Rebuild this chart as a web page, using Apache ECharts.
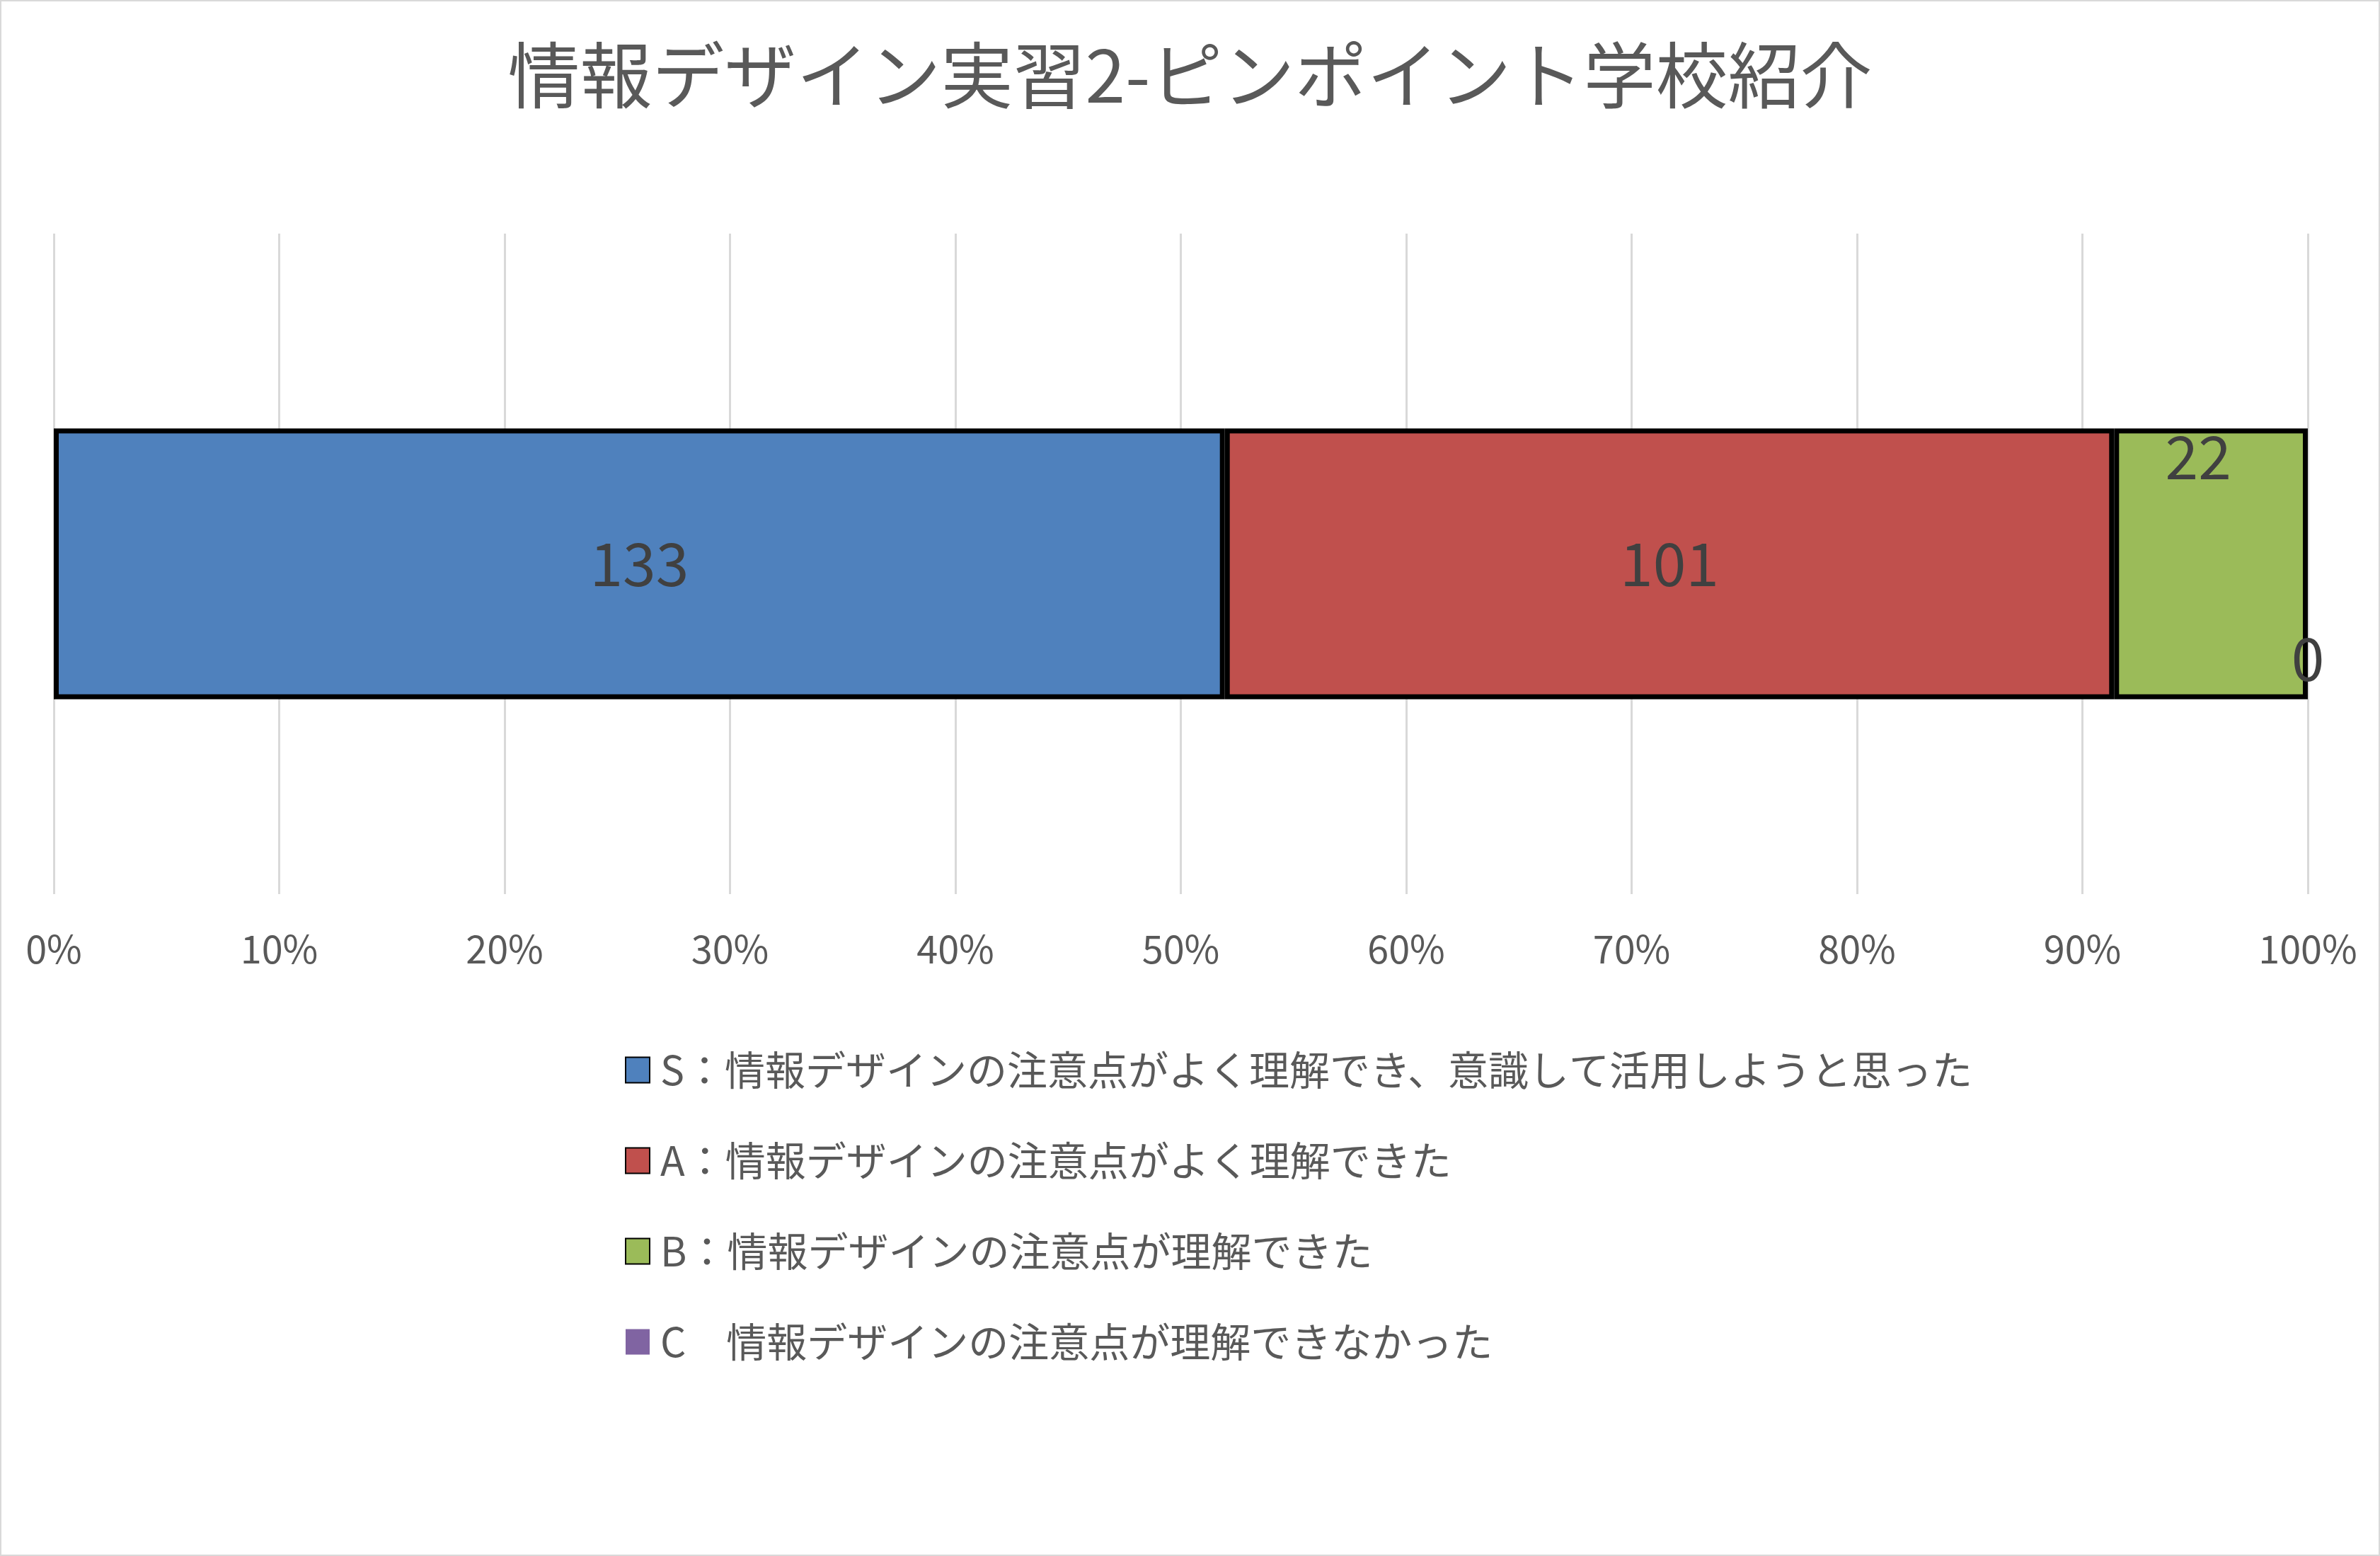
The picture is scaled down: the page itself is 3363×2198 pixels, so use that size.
<!DOCTYPE html>
<html>
<head>
<meta charset="utf-8">
<script src="https://cdn.jsdelivr.net/npm/echarts@6/dist/echarts.min.js"></script>
<style>
  html, body { margin: 0; padding: 0; background: #fff; }
  #chart { width: 3363px; height: 2198px; box-sizing: border-box; border: 2px solid #d9d9d9; }
</style>
</head>
<body>
<div id="chart"></div>
<script>
const titleText = '情報デザイン実習2-ピンポイント学校紹介'
const categories = ['']
const seriesNames = [
  'S：情報デザインの注意点がよく理解でき、意識して活用しようと思った',
  'A：情報デザインの注意点がよく理解できた',
  'B：情報デザインの注意点が理解できた',
  'C　情報デザインの注意点が理解できなかった'
]
const seriesCounts = [133, 101, 22, 0]
const seriesColors = ['#4f81bd', '#c0504d', '#9bbb59', '#8064a2']
const tickLabels = ['0%', '10%', '20%', '30%', '40%', '50%', '60%', '70%', '80%', '90%', '100%']

const total = seriesCounts.reduce((a, b) => a + b, 0)
const font = '"Noto Sans CJK JP", "Noto Sans", sans-serif'

// label tweaks so the small segments don't collide (like Excel did)
const labelOffsets = [[0, 0], [0, 0], [-18, -151], [0, 134]]

const chart = echarts.init(document.getElementById('chart'))

chart.setOption({
  animation: false,
  title: {
    text: titleText,
    left: 'center',
    top: 48,
    textStyle: {
      fontFamily: font,
      fontSize: 102,
      fontWeight: 'normal',
      color: '#595959'
    }
  },
  grid: {
    left: 74,
    right: 100,
    top: 328,
    bottom: 933
  },
  xAxis: {
    type: 'value',
    min: 0,
    max: 100,
    interval: 10,
    axisLine: { show: false },
    axisTick: { show: false },
    axisLabel: {
      margin: 50,
      fontFamily: font,
      fontSize: 54,
      color: '#595959',
      formatter: (v) => tickLabels[Math.round(v / 10)]
    },
    splitLine: {
      lineStyle: { color: '#d9d9d9', width: 3 }
    }
  },
  yAxis: {
    type: 'category',
    data: categories,
    show: false
  },
  legend: {
    orient: 'vertical',
    left: 876,
    top: 1476,
    icon: 'rect',
    itemWidth: 34,
    itemHeight: 36,
    itemGap: 71,
    data: seriesNames,
    textStyle: {
      fontFamily: font,
      fontSize: 57,
      lineHeight: 57,
      color: '#595959',
      padding: [0, 0, 0, 10]
    }
  },
  series: seriesNames.map((name, i) => ({
    name: name,
    type: 'bar',
    stack: 'total',
    barWidth: '41%',
    data: [seriesCounts[i] / total * 100],
    itemStyle: {
      color: seriesColors[i],
      borderColor: '#000',
      borderWidth: seriesCounts[i] > 0 ? 7 : 0
    },
    label: {
      show: true,
      position: 'inside',
      offset: labelOffsets[i],
      fontFamily: font,
      fontSize: 84,
      color: '#404040',
      formatter: () => String(seriesCounts[i])
    },
    emphasis: { disabled: true }
  }))
})
</script>
</body>
</html>
